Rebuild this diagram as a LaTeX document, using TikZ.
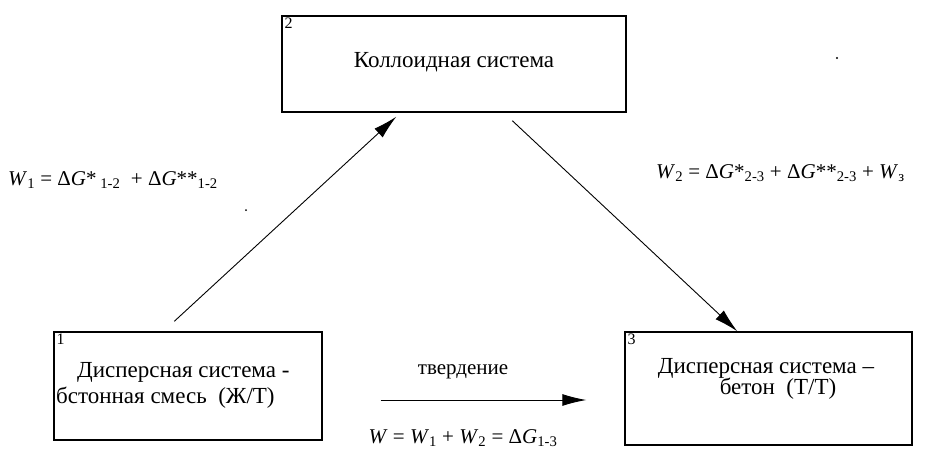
\documentclass[tikz,border=0pt]{standalone}
\usepackage{fontspec}
\setmainfont{Liberation Serif}
\usetikzlibrary{arrows.meta,calc}
\tikzset{
  boxnode/.style={draw,line width=1.4pt,inner sep=0pt},
  boxtext/.style={font=\fontsize{23}{26}\selectfont,inner sep=0pt},
  numtext/.style={font=\fontsize{16}{17}\selectfont,inner sep=0pt,anchor=north west},
  formula/.style={font=\fontsize{21}{24}\selectfont,inner sep=0pt},
  conn/.style={line width=0.9pt,-{Latex[length=24pt,width=12pt]}},
}
\newcommand{\Wi}{\textit{W}}
\newcommand{\Gi}{\textit{G}}
\begin{document}
\begin{tikzpicture}[x=1pt,y=-1pt]
\useasboundingbox (0,0) rectangle (930,453);
\fill[white] (0,0) rectangle (930,453);
% boxes
\node[boxnode,minimum width=268pt,minimum height=108pt] (b1) at (188,386) {};
\node[boxnode,minimum width=344pt,minimum height=96pt] (b2) at (454,64) {};
\node[boxnode,minimum width=287pt,minimum height=113pt] (b3) at (768.5,388.5) {};
% numbers
\node[numtext] (n1) at ($(b1.north west)+(3,2)$) {1};
\node[numtext] (n2) at ($(b2.north west)+(3,2)$) {2};
\node[numtext] (n3) at ($(b3.north west)+(3,2)$) {3};
% texts
\node[boxtext] (t2) at (454,62) {Коллоидная система};
\node[boxtext,anchor=west] (t1a) at (77,372) {Дисперсная система -};
\node[boxtext,anchor=west] (t1b) at (56,398) {бстонная смесь\ \ (Ж/Т)};
\node[boxtext] (t3a) at (766,368) {Дисперсная система –};
\node[boxtext] (t3b) at (778,389) {бетон\ \ (Т/Т)};
% connector endpoints
\coordinate (a1s) at ($(b1.north west)+(121,-10)$);
\coordinate (a1e) at ($(b2.south west)+(115,4)$);
\coordinate (a2s) at ($(b2.south west)+(231,8)$);
\coordinate (a2e) at ($(b3.north west)+(113,0)$);
\coordinate (a3s) at ($(b1.east)+(58,14)$);
\coordinate (a3e) at ($(b3.west)+(-38,11.5)$);
\draw[conn] (a1s) -- (a1e);
\draw[conn] (a2s) -- (a2e);
\draw[conn] (a3s) -- (a3e);
% labels
\node[formula,anchor=west] (f1) at (8,180) {\Wi\textsubscript{1} = Δ\Gi*\textsubscript{ 1-2}\ \ + Δ\Gi**\textsubscript{1-2}};
\node[formula,anchor=west] (f2) at (656,173) {\Wi\textsubscript{2} = Δ\Gi*\textsubscript{2-3} + Δ\Gi**\textsubscript{2-3} + \Wi\textsubscript{з}};
\node[formula] (tv) at (463,372) {твердение};
\node[formula] (f3) at (463,438) {\Wi{} = \Wi\textsubscript{1} + \Wi\textsubscript{2} = Δ\Gi\textsubscript{1-3}};
% specks
\fill (246,210) circle (1pt);
\fill (837,58) circle (1.2pt);
\end{tikzpicture}
\end{document}
